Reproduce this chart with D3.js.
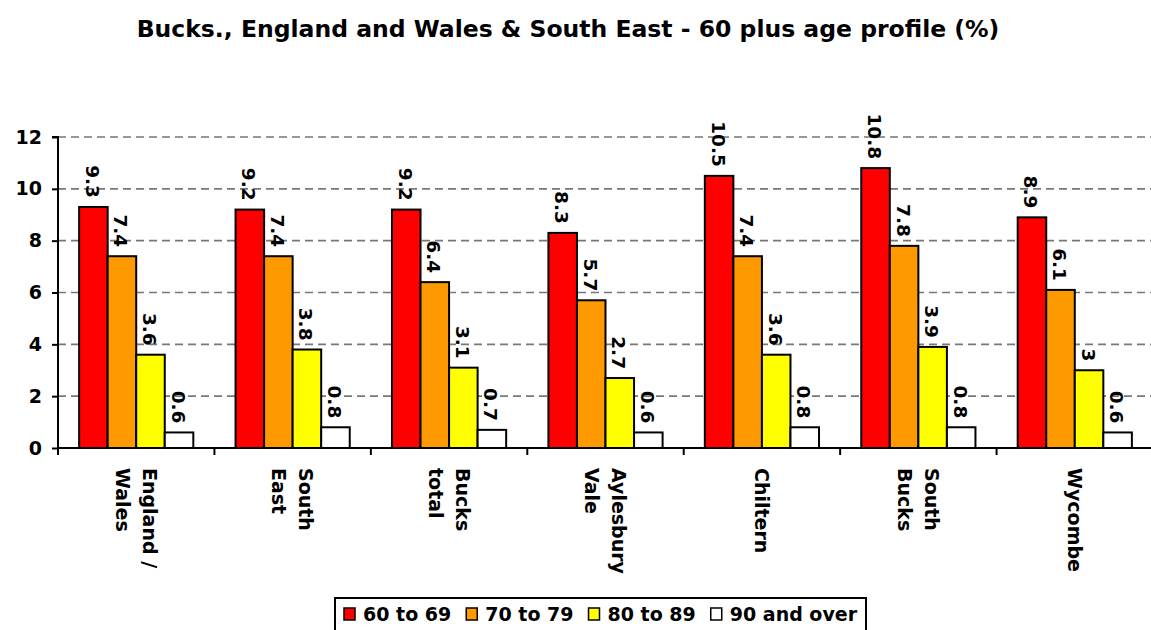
<!DOCTYPE html>
<html>
<head>
<meta charset="utf-8">
<script src="https://cdn.jsdelivr.net/npm/d3@7"></script>
<style>
  html, body { margin: 0; padding: 0; background: #fff; }
  svg { display: block; font-family: Verdana, "DejaVu Sans", sans-serif; font-weight: bold; }
</style>
</head>
<body>
<svg id="chart" width="1151" height="630"></svg>
<script>
const categories = [["England /", "Wales"], ["South", "East"], ["Bucks", "total"], ["Aylesbury", "Vale"], ["Chiltern"], ["South", "Bucks"], ["Wycombe"]];
const seriesNames = ["60 to 69", "70 to 79", "80 to 89", "90 and over"];
const seriesColors = ["#ff0000", "#ff9900", "#ffff00", "#ffffff"];
const s60to69 = [9.3, 9.2, 9.2, 8.3, 10.5, 10.8, 8.9];
const s70to79 = [7.4, 7.4, 6.4, 5.7, 7.4, 7.8, 6.1];
const s80to89 = [3.6, 3.8, 3.1, 2.7, 3.6, 3.9, 3.0];
const s90over = [0.6, 0.8, 0.7, 0.6, 0.8, 0.8, 0.6];
const yTicks = [0, 2, 4, 6, 8, 10, 12];
const titleText = "Bucks., England and Wales & South East - 60 plus age profile (%)";

(function () {
const seriesValues = [s60to69, s70to79, s80to89, s90over];
const svg = d3.select("#chart");
const pLeft = 58, pRight = 1153, pTop = 137, pBottom = 448;

const x0 = d3.scaleBand().domain(d3.range(categories.length)).range([pLeft, pRight]).padding(0);
const bw = x0.bandwidth();
const x1 = d3.scaleBand().domain(d3.range(seriesNames.length)).range([bw * 0.135, bw * 0.865]).padding(0);
const y = d3.scaleLinear().domain([0, 12]).range([pBottom, pTop]);

// title
svg.append("text").attr("x", 568).attr("y", 37).attr("text-anchor", "middle")
  .style("font-size", "23.5px").text(titleText);

// gridlines
svg.append("g").selectAll("line").data(yTicks.filter(d => d > 0)).join("line")
  .attr("x1", pLeft).attr("x2", pRight).attr("y1", d => y(d)).attr("y2", d => y(d))
  .attr("stroke", "#777").attr("stroke-width", 1.6).attr("stroke-dasharray", "8,5");

// bars
const groups = svg.append("g").selectAll("g").data(categories).join("g")
  .attr("transform", (d, i) => `translate(${x0(i)},0)`);
groups.each(function(c, ci) {
  const g = d3.select(this);
  seriesValues.forEach((vals, si) => {
    const v = vals[ci];
    g.append("rect").attr("x", x1(si)).attr("y", y(v)).attr("width", x1.bandwidth()).attr("height", y(0) - y(v))
      .attr("fill", seriesColors[si]).attr("stroke", "#000").attr("stroke-width", 2);
    g.append("text")
      .attr("transform", `translate(${x1(si) + x1.bandwidth() / 2 - 7.5},${y(v) - 9}) rotate(90)`)
      .attr("text-anchor", "end")
      .style("font-size", "18.5px").text(v);
  });
});

// y axis
const yAxis = svg.append("g").attr("transform", `translate(${pLeft},0)`)
  .call(d3.axisLeft(y).tickValues(yTicks).tickSize(6).tickPadding(10).tickFormat(d3.format("d")));
yAxis.select(".domain").attr("stroke", "#000").attr("stroke-width", 2).attr("d", `M-6,${pTop}H0V${pBottom}`);
yAxis.selectAll(".tick line").attr("stroke", "#000").attr("stroke-width", 2);
yAxis.selectAll(".tick text").style("font-size", "19px").style("font-family", "Verdana, 'DejaVu Sans', sans-serif").style("font-weight", "bold").attr("fill", "#000");

// x axis
const xAxis = svg.append("g").attr("transform", `translate(0,${pBottom})`);
xAxis.append("line").attr("x1", pLeft).attr("x2", pRight).attr("y1", 0).attr("y2", 0).attr("stroke", "#000").attr("stroke-width", 2);
xAxis.selectAll("line.tk").data(d3.range(categories.length + 1)).join("line").attr("class", "tk")
  .attr("x1", i => pLeft + i * bw).attr("x2", i => pLeft + i * bw).attr("y1", 0).attr("y2", 7)
  .attr("stroke", "#000").attr("stroke-width", 2);
categories.forEach((lines, ci) => {
  const cx = x0(ci) + bw / 2;
  const n = lines.length;
  const t = xAxis.append("text")
    .attr("transform", `translate(${cx},20) rotate(90)`)
    .style("font-size", "19px");
  lines.forEach((ln, li) => {
    const off = (li - (n - 1) / 2) * 27;
    t.append("tspan").attr("x", 0).attr("y", off + 7).text(ln);
  });
});

// legend
const lg = svg.append("g");
lg.append("rect").attr("x", 335).attr("y", 598).attr("width", 531).attr("height", 44)
  .attr("fill", "#fff").attr("stroke", "#000").attr("stroke-width", 2);
let lx = 344;
seriesNames.forEach((name, i) => {
  lg.append("rect").attr("x", lx).attr("y", 608).attr("width", 11).attr("height", 12)
    .attr("fill", seriesColors[i]).attr("stroke", "#000").attr("stroke-width", 1.5);
  const t = lg.append("text").attr("x", lx + 19).attr("y", 621).style("font-size", "19px").text(name);
  lx += 19 + t.node().getComputedTextLength() + 15;
});
})();
</script>
</body>
</html>
